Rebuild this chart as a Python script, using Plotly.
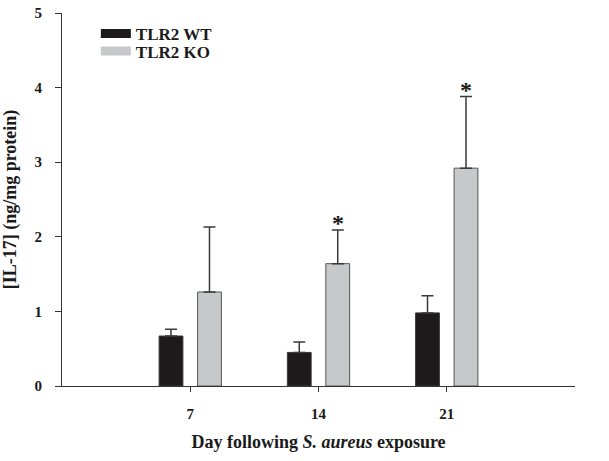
import plotly.graph_objects as go

DAYS = [7, 14, 21]
DAY_LABELS = ["7", "14", "21"]
WT_MEAN = [0.67, 0.45, 0.98]
WT_ERR = [0.09, 0.14, 0.23]
KO_MEAN = [1.26, 1.64, 2.92]
KO_ERR = [0.87, 0.45, 0.96]
SIGNIFICANT = [False, True, True]  # KO vs WT
Y_TICKS = [0, 1, 2, 3, 4, 5]

FONT = "Liberation Serif, Times New Roman, serif"
INK = "#1a1a1a"
WT_COLOR = "#1c1a1b"
KO_COLOR = "#c7c8ca"
BAR_W = 1.3
GAP = 1.05

fig = go.Figure()
for name, mean, err, color, edge, off in [
    ("TLR2 WT", WT_MEAN, WT_ERR, WT_COLOR, "#3a3a3a", -GAP),
    ("TLR2 KO", KO_MEAN, KO_ERR, KO_COLOR, "#555555", GAP),
]:
    fig.add_trace(
        go.Bar(
            x=DAYS,
            y=mean,
            name=name,
            showlegend=False,
            width=BAR_W,
            offset=off - BAR_W / 2,
            marker=dict(color=color, line=dict(color=edge, width=1)),
            error_y=dict(type="data", array=err, arrayminus=[0] * len(err), symmetric=False,
                         color="#3a3a3a", thickness=1.5, width=6),
        )
    )

# legend swatches (two legends so the rows can sit close together)
for name, color, legend in [("TLR2 WT", WT_COLOR, "legend"), ("TLR2 KO", KO_COLOR, "legend2")]:
    fig.add_trace(
        go.Scatter(
            x=[None], y=[None], mode="lines", name=f"<b>{name}</b>",
            line=dict(color=color, width=9), legend=legend,
        )
    )

for d, m, e, sig in zip(DAYS, KO_MEAN, KO_ERR, SIGNIFICANT):
    if sig:
        fig.add_annotation(
            x=d + GAP, y=m + e, text="<b>*</b>", showarrow=False,
            yanchor="bottom", yshift=-8, font=dict(family=FONT, size=24, color=INK),
        )

legend_style = dict(
    xanchor="left", yanchor="middle",
    font=dict(family=FONT, size=17, color=INK),
    bgcolor="rgba(0,0,0,0)", itemwidth=30,
)
fig.update_layout(
    width=609,
    height=461,
    autosize=False,
    margin=dict(l=62, r=34, t=13, b=71),
    paper_bgcolor="white",
    plot_bgcolor="white",
    barmode="overlay",
    font=dict(family=FONT, size=14, color=INK),
    legend=dict(x=0.066, y=0.944, **legend_style),
    legend2=dict(x=0.066, y=0.897, **legend_style),
)
fig.update_xaxes(
    range=[0, 28],
    tickvals=DAYS,
    ticktext=[f"<b>{t}</b>" for t in DAY_LABELS],
    ticks="outside", ticklen=5, tickwidth=1, tickcolor="#333",
    ticklabelstandoff=9,
    tickfont=dict(size=15),
    showline=True, linecolor="#333", linewidth=1.2,
    showgrid=False, zeroline=False,
    title=dict(text="<b>Day following <i>S. aureus</i> exposure</b>",
               font=dict(family=FONT, size=18), standoff=14),
)
fig.update_yaxes(
    range=[0, 5],
    tickvals=Y_TICKS,
    ticktext=[f"<b>{t}</b>" for t in Y_TICKS],
    ticks="outside", ticklen=6, tickwidth=1, tickcolor="#333",
    ticklabelstandoff=10,
    ticklabeloverflow="allow",
    automargin=False,
    tickfont=dict(size=15),
    showline=True, linecolor="#333", linewidth=1.2,
    showgrid=False, zeroline=False,
    title=dict(text="<b>[IL-17] (ng/mg protein)</b>", font=dict(family=FONT, size=18), standoff=14),
)

# drop the browser's default body margin so the figure fills the window exactly
fig.write_html(
    "out.html",
    config={"displayModeBar": False, "responsive": False},
    post_script="document.body.style.margin = '0';",
)
